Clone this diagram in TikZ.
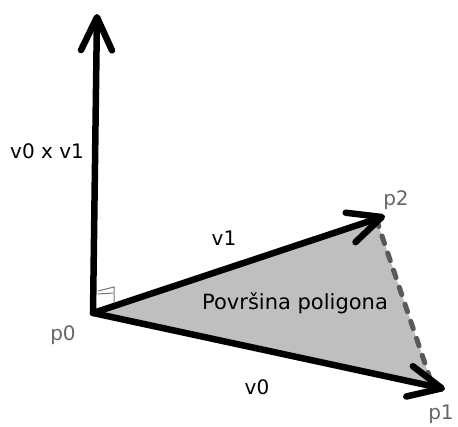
\documentclass[tikz,border=0pt]{standalone}
\usepackage{fontspec}
\setmainfont{DejaVu Sans}
\usetikzlibrary{arrows.meta,calc}
\tikzset{
  vecarrow/.style={-{Straight Barb[length=33pt,width=31pt,round]}, line width=6.5pt, line cap=round},
  vlabel/.style={anchor=base, inner sep=0pt, font=\fontsize{20}{24}\selectfont},
  plabel/.style={anchor=base, inner sep=0pt, text=black!60, font=\fontsize{20}{24}\selectfont},
  areafill/.style={fill=black!25},
  closeedge/.style={draw=black!65, line width=5pt, dash pattern=on 8pt off 10pt, line cap=round},
  rmark/.style={draw=black!55, line width=1pt}
}
\begin{document}
\begin{tikzpicture}[x=1pt,y=-1pt]
\useasboundingbox (0,0) rectangle (458,426);
\coordinate (p0) at (93,313);
\coordinate (top) at (97,14);
\coordinate (p2) at (385,216);
\coordinate (p1) at (445,389);
\coordinate (p2f) at ($(p0)!0.97!(p2)$);
\coordinate (p1f) at ($(p0)!0.965!(p1)$);
% povrsina
\fill[areafill] (p0) -- (p2f) -- (p1f) -- cycle;
\draw[closeedge] (p2f) -- (p1f);
% vektori
\draw[vecarrow] (p0) -- (top);
\draw[vecarrow] (p0) -- (p2);
\draw[vecarrow] (p0) -- (p1);
% pravi kut
\coordinate (r1) at (98,291);
\coordinate (r2) at (114,287);
\coordinate (r3) at (114,303);
\coordinate (r4) at (98,294);
\coordinate (r5) at (113,293);
\draw[rmark] (r1) -- (r2) -- (r3);
\draw[rmark] (r4) -- (r5);
% oznake
\node[vlabel] (cross) at (47,158) {v0 x v1};
\node[vlabel] (lv1) at (224,245) {v1};
\node[vlabel] (lv0) at (257,394) {v0};
\node[plabel] (lp0) at (63,340) {p0};
\node[plabel] (lp1) at (441,419) {p1};
\node[plabel] (lp2) at (396,205) {p2};
\node[anchor=base, inner sep=0pt, font=\fontsize{21}{25}\selectfont] (area) at (295,309) {Površina poligona};
\end{tikzpicture}
\end{document}
